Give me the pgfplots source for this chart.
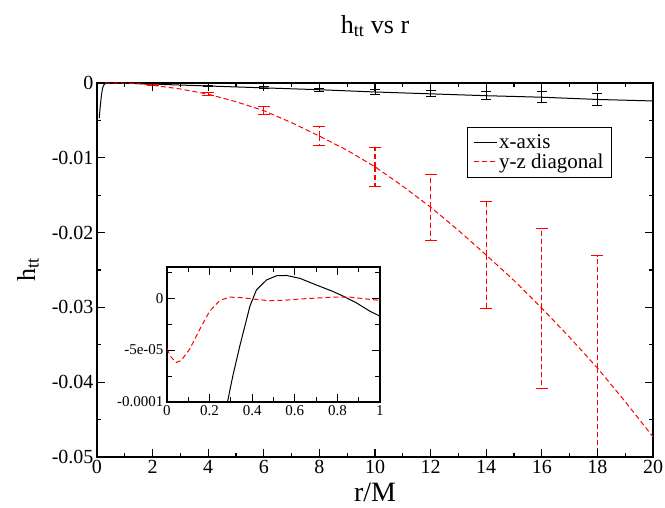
\documentclass[border=0pt]{standalone}
\usepackage{fontspec}
\setmainfont{Liberation Serif}
\usepackage{pgfplots}
\usepackage{pgfplotstable}
\pgfplotsset{compat=1.18}
\usetikzlibrary{calc}

% x-axis line
\pgfplotstableread{
x y
0.08 -0.0047
0.12 -0.0030
0.16 -0.0016
0.20 -0.0007
0.24 -0.0003
0.284 -0.0001
0.31 -0.000074
0.342 -0.000046
0.373 -0.000021
0.389 -0.0000079
0.42 0.0000079
0.467 0.0000174
0.514 0.0000215
0.561 0.0000218
0.624 0.000019
0.70 0.0000127
0.78 0.0000063
0.83 0.0000016
0.89 -0.0000047
0.953 -0.0000127
1.0 -0.0000174
2 -0.00015
4 -0.0004
6 -0.00065
8 -0.0009
10 -0.0012
12 -0.00145
14 -0.0017
16 -0.0019
18 -0.0022
20 -0.0024
}\xaxisdata

\pgfplotstableread{
x y e
2 -0.00015 0.00005
4 -0.0004 0.0001
6 -0.00065 0.00015
8 -0.0009 0.0002
10 -0.0012 0.0003
12 -0.00145 0.0004
14 -0.0017 0.00055
16 -0.0019 0.0007
18 -0.0022 0.00085
}\xaxiserr

% y-z diagonal line
\pgfplotstableread{
x y
0 -0.000049
0.02 -0.000057
0.044 -0.000062
0.067 -0.000060
0.107 -0.000049
0.154 -0.000030
0.2 -0.0000127
0.248 -0.0000022
0.295 0.0000009
0.342 0.0000006
0.404 -0.0000009
0.48 -0.0000025
0.545 -0.0000022
0.624 -0.0000009
0.70 0.0
0.78 0.0000009
0.86 0.0000009
0.937 -0.0000009
1.0 -0.0000022
1.5 -0.0001
2 -0.0003
3 -0.0008
4 -0.0015
5 -0.0025
6 -0.0037
7 -0.0053
8 -0.0071
9 -0.009
10 -0.0112
11 -0.0138
12 -0.0166
13 -0.0197
14 -0.023
15 -0.0264
16 -0.0301
17 -0.034
18 -0.0381
19 -0.0426
20 -0.0473
}\diagdata

\pgfplotstableread{
x y e
2 -0.0003 0.0001
4 -0.0015 0.0002
6 -0.0037 0.0005
8 -0.0071 0.00125
10 -0.0112 0.0026
12 -0.0166 0.0044
14 -0.023 0.0071
16 -0.0301 0.0107
18 -0.0381 0.015
}\diagerr

\begin{document}
\begin{tikzpicture}
\begin{axis}[
  name=main,
  width=556pt, height=374pt, scale only axis,
  xmin=0, xmax=20, ymin=-0.05, ymax=0,
  xtick={0,2,4,6,8,10,12,14,16,18,20},
  xticklabels={0,2,4,6,8,10,12,14,16,18,20},
  minor xtick={1,3,5,7,9,11,13,15,17,19},
  ytick={-0.05,-0.04,-0.03,-0.02,-0.01,0},
  yticklabels={-0.05,-0.04,-0.03,-0.02,-0.01,0},
  minor ytick={-0.045,-0.035,-0.025,-0.015,-0.005},
  scaled y ticks=false,
  major tick length=8pt, minor tick length=4pt,
  major tick style={draw=black, line width=1pt},
  minor tick style={draw=black, line width=1pt},
  every outer x axis line/.append style={line width=1.8pt},
  every outer y axis line/.append style={line width=1.8pt},
  tick label style={font=\fontsize{20}{24}\selectfont},
  title={h\textsubscript{tt} vs r},
  title style={font=\fontsize{26}{30}\selectfont, at={(axis description cs:0.5,1.1176)}, anchor=base},
  xlabel={r/M},
  xlabel style={font=\fontsize{28}{32}\selectfont, at={(axis description cs:0.5,-0.1203)}, anchor=base},
  ylabel={h\textsubscript{tt}},
  ylabel style={font=\fontsize{26}{30}\selectfont, at={(axis description cs:-0.1115,0.5)}, anchor=base},
  legend style={at={(0.665,0.882)}, anchor=north west, draw=black, line width=0.8pt,
    font=\fontsize{21}{25}\selectfont, inner xsep=6pt, inner ysep=5pt, row sep=0pt},
  legend cell align=left,
  legend image code/.code={\draw[#1, line width=1pt] (0pt,0pt) -- (23pt,0pt);},
]
\addplot[black, line width=1pt] table[x=x, y=y] {\xaxisdata};
\addlegendentry{x-axis}
\addplot[red, line width=1pt, dash pattern=on 5pt off 3pt] table[x=x, y=y] {\diagdata};
\addlegendentry{y-z diagonal}
\addplot[black, line width=1pt, only marks, mark=text, text mark={}, forget plot,
  error bars/.cd, y dir=both, y explicit,
  error bar style={black, line width=1pt},
  error mark options={rotate=90, mark size=5pt, solid, black, line width=1pt}]
  table[x=x, y=y, y error=e] {\xaxiserr};
\addplot[red, line width=1pt, only marks, mark=text, text mark={}, forget plot,
  error bars/.cd, y dir=both, y explicit,
  error bar style={red, line width=1.1pt, dash pattern=on 5pt off 3pt},
  error mark options={rotate=90, mark size=6pt, solid, red, line width=1pt}]
  table[x=x, y=y, y error=e] {\diagerr};
\end{axis}

% inset, y in units of 1e-5
\begin{axis}[
  name=inset,
  at={($(main.south west)+(70pt,55pt)$)}, anchor=south west,
  width=213pt, height=135pt, scale only axis,
  xmin=0, xmax=1, ymin=-10, ymax=3,
  xtick={0,0.2,0.4,0.6,0.8,1},
  xticklabels={0,0.2,0.4,0.6,0.8,1},
  minor xtick={0.1,0.3,0.5,0.7,0.9},
  ytick={-10,-5,0},
  yticklabels={-0.0001,-5e-05,0},
  minor ytick={-7.5,-2.5,2.5},
  major tick length=8pt, minor tick length=5pt,
  major tick style={draw=black, line width=0.8pt},
  minor tick style={draw=black, line width=0.8pt},
  every outer x axis line/.append style={line width=1.2pt},
  every outer y axis line/.append style={line width=1.2pt},
  tick label style={font=\fontsize{15}{18}\selectfont},
  axis background/.style={fill=white},
]
\addplot[black, line width=1pt, restrict x to domain=0:2]
  table[x=x, y expr=\thisrow{y}*100000] {\xaxisdata};
\addplot[red, line width=1pt, dash pattern=on 5pt off 3pt, restrict x to domain=0:2]
  table[x=x, y expr=\thisrow{y}*100000] {\diagdata};
\end{axis}

% tick marks on all four sides, drawn on the axis frames
\foreach \i in {0,...,20}{
  \pgfmathsetmacro{\len}{ifthenelse(mod(\i,2)==0,8,4)}
  \draw[black, line width=1.2pt] ($(main.south west)!\i/20!(main.south east)$) -- ++(0pt,\len pt);
  \draw[black, line width=1.2pt] ($(main.north west)!\i/20!(main.north east)$) -- ++(0pt,-\len pt);
}
\foreach \j in {0,...,10}{
  \pgfmathsetmacro{\len}{ifthenelse(mod(\j,2)==0,8,4)}
  \draw[black, line width=1.2pt] ($(main.south west)!\j/10!(main.north west)$) -- ++(\len pt,0pt);
  \draw[black, line width=1.2pt] ($(main.south east)!\j/10!(main.north east)$) -- ++(-\len pt,0pt);
}
\foreach \i in {0,...,10}{
  \pgfmathsetmacro{\len}{ifthenelse(mod(\i,2)==0,8,5)}
  \draw[black, line width=1pt] ($(inset.south west)!\i/10!(inset.south east)$) -- ++(0pt,\len pt);
  \draw[black, line width=1pt] ($(inset.north west)!\i/10!(inset.north east)$) -- ++(0pt,-\len pt);
}
\foreach \j in {0,1,2,3,4,5}{
  \pgfmathsetmacro{\len}{ifthenelse(mod(\j,2)==0,8,5)}
  \draw[black, line width=1pt] ($(inset.south west)!\j*2.5/13!(inset.north west)$) -- ++(\len pt,0pt);
  \draw[black, line width=1pt] ($(inset.south east)!\j*2.5/13!(inset.north east)$) -- ++(-\len pt,0pt);
}
\pgfresetboundingbox
\useasboundingbox (main.south west) ++(-97pt,-51pt) rectangle ++(665pt,508pt);
\end{tikzpicture}
\end{document}
